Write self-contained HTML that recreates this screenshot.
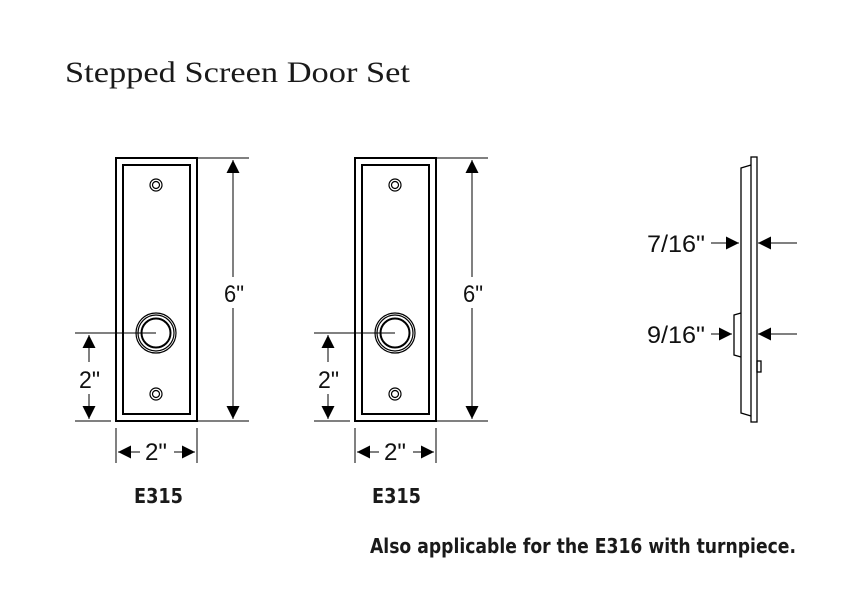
<!DOCTYPE html>
<html><head><meta charset="utf-8"><style>
html,body{margin:0;padding:0;background:#fff;}
svg{display:block;}
.d{font-family:"Liberation Sans",sans-serif;font-size:24px;fill:#111;}
.b{font-family:"DejaVu Sans","Liberation Sans",sans-serif;font-weight:bold;font-size:20px;fill:#1a1a1a;}
</style></head><body>
<svg width="851" height="613" viewBox="0 0 851 613" xmlns="http://www.w3.org/2000/svg">
<defs>
<marker id="a" viewBox="0 0 10 10" refX="10" refY="5" markerWidth="14" markerHeight="13" markerUnits="userSpaceOnUse" orient="auto-start-reverse"><path d="M0,0 L10,5 L0,10z" fill="#000"/></marker>
<g id="plate" stroke="#000" fill="none">
<rect x="116" y="158" width="81" height="263" stroke-width="2"/>
<rect x="123" y="165" width="67" height="249" stroke-width="2"/>
<circle cx="156" cy="185" r="6" stroke-width="1.2"/><circle cx="156" cy="185" r="3.5" stroke-width="1.2"/>
<circle cx="156" cy="394" r="6" stroke-width="1.2"/><circle cx="156" cy="394" r="3.5" stroke-width="1.2"/>
<circle cx="156" cy="333" r="20" stroke-width="1.2"/><circle cx="156" cy="333" r="18" stroke-width="1.2"/><circle cx="156" cy="333" r="14.5" stroke-width="2"/>
<g stroke-width="1">
<line x1="198" y1="158" x2="249" y2="158"/><line x1="198" y1="421" x2="249" y2="421"/>
<line x1="233" y1="160" x2="233" y2="277" marker-start="url(#a)"/><line x1="233" y1="308" x2="233" y2="419" marker-end="url(#a)"/>
<line x1="75" y1="333" x2="156" y2="333"/><line x1="75" y1="421" x2="111" y2="421"/>
<line x1="89" y1="335" x2="89" y2="362" marker-start="url(#a)"/><line x1="89" y1="394" x2="89" y2="419" marker-end="url(#a)"/>
<line x1="116" y1="428" x2="116" y2="463"/><line x1="197" y1="428" x2="197" y2="463"/>
<line x1="118" y1="452" x2="140" y2="452" marker-start="url(#a)"/><line x1="174" y1="452" x2="195" y2="452" marker-end="url(#a)"/>
</g>
</g>
</defs>
<text x="65" y="82" font-family="'Liberation Serif',serif" font-size="30" fill="#1a1a1a" textLength="345" lengthAdjust="spacingAndGlyphs">Stepped Screen Door Set</text>
<use href="#plate"/>
<use href="#plate" x="239"/>
<text class="d" x="224" y="302" textLength="20" lengthAdjust="spacingAndGlyphs">6"</text>
<text class="d" x="463" y="302" textLength="20" lengthAdjust="spacingAndGlyphs">6"</text>
<text class="d" x="79" y="388" textLength="21" lengthAdjust="spacingAndGlyphs">2"</text>
<text class="d" x="318" y="388" textLength="21" lengthAdjust="spacingAndGlyphs">2"</text>
<text class="d" x="145" y="460" textLength="22" lengthAdjust="spacingAndGlyphs">2"</text>
<text class="d" x="384" y="460" textLength="22" lengthAdjust="spacingAndGlyphs">2"</text>
<text class="b" x="134" y="503" textLength="49" lengthAdjust="spacingAndGlyphs">E315</text>
<text class="b" x="372" y="503" textLength="49" lengthAdjust="spacingAndGlyphs">E315</text>
<text class="b" x="370" y="553" textLength="426" lengthAdjust="spacingAndGlyphs">Also applicable for the E316 with turnpiece.</text>
<g stroke="#000" fill="none" stroke-width="1.3">
<rect x="751" y="157" width="6" height="265"/>
<path d="M751,165 L741,168 L741,413 L751,416"/>
<path d="M741,313 L734,315 L734,355 L741,357"/>
<rect x="757" y="361" width="4" height="11"/>
</g>
<g stroke="#000" stroke-width="1">
<line x1="711" y1="243" x2="739" y2="243" marker-end="url(#a)"/>
<line x1="797" y1="243" x2="758" y2="243" marker-end="url(#a)"/>
<line x1="711" y1="334" x2="732" y2="334" marker-end="url(#a)"/>
<line x1="797" y1="334" x2="758" y2="334" marker-end="url(#a)"/>
</g>
<text class="d" x="647" y="252" textLength="58" lengthAdjust="spacingAndGlyphs">7/16"</text>
<text class="d" x="647" y="343" textLength="58" lengthAdjust="spacingAndGlyphs">9/16"</text>
</svg>
</body></html>
